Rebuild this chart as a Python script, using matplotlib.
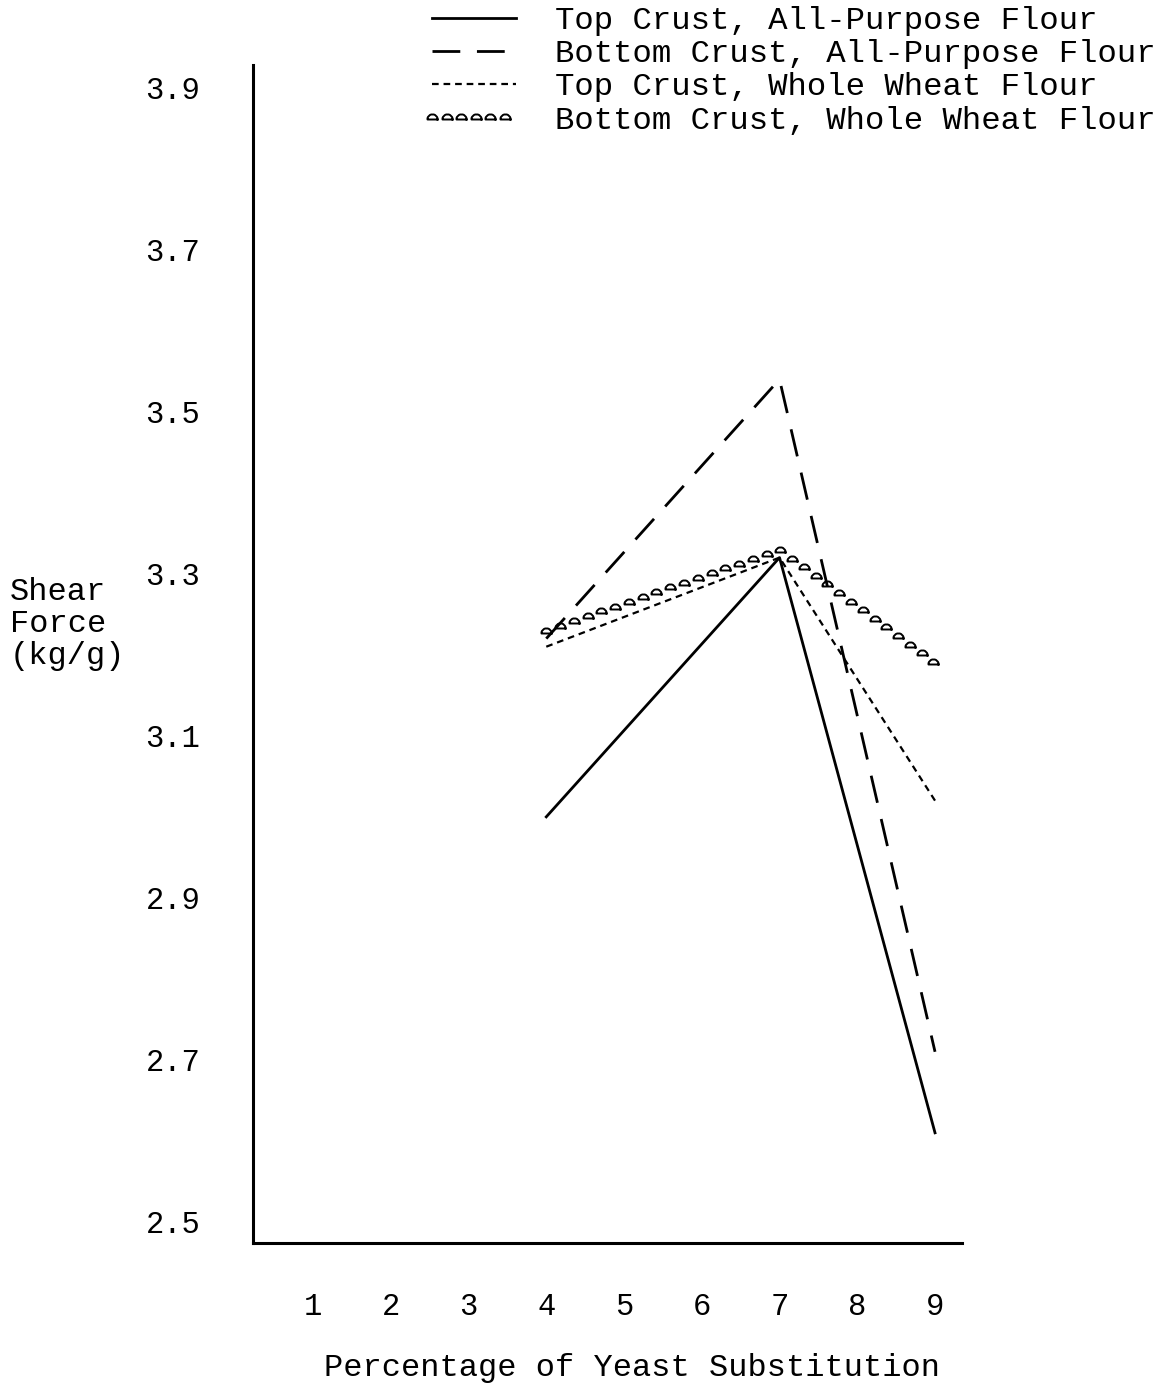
import matplotlib
matplotlib.use('Agg')
import matplotlib.pyplot as plt
import matplotlib.patheffects as pe
from matplotlib.path import Path
from matplotlib.transforms import Affine2D, IdentityTransform
import numpy as np

# data
yeast_pct = [4, 7, 9]
top_ap = [3.00, 3.32, 2.61]
bottom_ap = [3.22, 3.54, 2.71]
top_ww = [3.21, 3.32, 3.02]
bottom_ww = [3.23, 3.33, 3.19]

series_labels = ['Top Crust, All-Purpose Flour',
                 'Bottom Crust, All-Purpose Flour',
                 'Top Crust, Whole Wheat Flour',
                 'Bottom Crust, Whole Wheat Flour']
x_ticks = [1, 2, 3, 4, 5, 6, 7, 8, 9]
y_ticks = [2.5, 2.7, 2.9, 3.1, 3.3, 3.5, 3.7, 3.9]

FONT = 'Liberation Mono'


class ChainStroke(pe.AbstractPathEffect):
    """Draws small open dome symbols spaced along the path."""

    def __init__(self, spacing=10.5, size=3.6, lw=1.4):
        super().__init__()
        self.spacing = spacing
        self.size = size
        self.lw = lw
        # dome: half circle on a flat base
        arc = Path.arc(0, 180)
        verts = np.vstack([arc.vertices * [1.0, 1.0], [[1.0, 0.0]]])
        self.marker = Path(verts - [0, 0.4], closed=False)

    def draw_path(self, renderer, gc, tpath, affine, rgbFace=None):
        pts = affine.transform(tpath.vertices)
        step = renderer.points_to_pixels(self.spacing)
        out = []
        carry = 0.0
        for p0, p1 in zip(pts[:-1], pts[1:]):
            seg = np.hypot(*(p1 - p0))
            d = carry
            while d <= seg:
                out.append(p0 + (p1 - p0) * d / seg)
                d += step
            carry = d - seg
        if not out:
            return
        gc0 = renderer.new_gc()
        gc0.copy_properties(gc)
        gc0.set_dashes(0, None)
        gc0.set_linewidth(self.lw)
        scale = renderer.points_to_pixels(self.size)
        renderer.draw_markers(gc0, self.marker, Affine2D().scale(scale),
                              Path(np.array(out)), IdentityTransform(), None)
        gc0.restore()


fig = plt.figure(figsize=(11.67, 13.85), dpi=100)
ax = fig.add_axes([253 / 1167, 142 / 1385, 709 / 1167, 1178 / 1385])

lw = 2.0
ax.plot(yeast_pct, top_ap, color='black', lw=lw, label=series_labels[0])
ax.plot(yeast_pct, bottom_ap, color='black', lw=lw, dashes=(10, 6),
        label=series_labels[1])
ax.plot(yeast_pct, top_ww, color='black', lw=1.6, dashes=(3, 2.2),
        label=series_labels[2])
ax.plot(yeast_pct, bottom_ww, color='black', lw=1.5,
        path_effects=[ChainStroke()], label=series_labels[3])

ax.set_xlim(0.228, 9.347)
ax.set_ylim(2.474, 3.928)
ax.set_xticks(x_ticks)
ax.set_xticklabels([str(v) for v in x_ticks])
ax.set_yticks(y_ticks)
ax.set_yticklabels(['%.1f' % v for v in y_ticks])
ax.tick_params(length=0, labelsize=22)
ax.tick_params(axis='y', pad=38)
ax.tick_params(axis='x', pad=35)
for lab in ax.get_xticklabels() + ax.get_yticklabels():
    lab.set_fontfamily(FONT)

for s in ['top', 'right']:
    ax.spines[s].set_visible(False)
for s in ['left', 'bottom']:
    ax.spines[s].set_linewidth(2.2)

fig.text(10 / 1167, 1 - 624 / 1385, 'Shear\nForce\n(kg/g)', family=FONT,
         fontsize=23, ha='left', va='center', linespacing=1.08)
fig.text(632 / 1167, 1 - 1368 / 1385, 'Percentage of Yeast Substitution',
         family=FONT, fontsize=23, ha='center', va='center')

fig.legend(loc='upper left', bbox_to_anchor=(432 / 1167, 1 - 6 / 1385),
           frameon=False, prop={'family': FONT, 'size': 23.3},
           handlelength=2.6, handletextpad=1.2, labelspacing=0.1,
           borderpad=0, borderaxespad=0)

fig.savefig('out.png', dpi=100, facecolor='white')
